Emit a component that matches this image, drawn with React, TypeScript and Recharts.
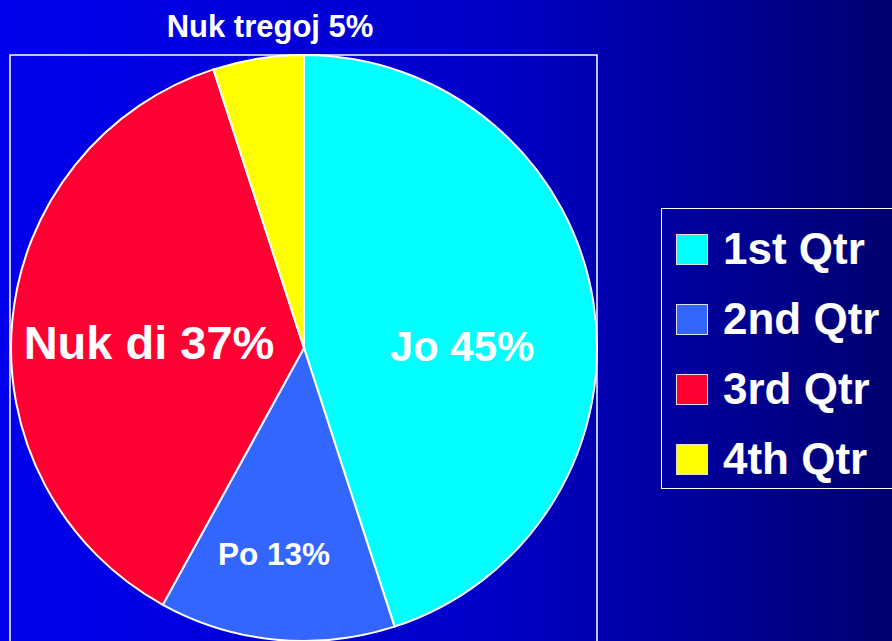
import { PieChart, Pie, Cell, Legend, Customized } from "recharts";

const labels = ["Jo 45%", "Po 13%", "Nuk di 37%", "Nuk tregoj 5%"];
const legendNames = ["1st Qtr", "2nd Qtr", "3rd Qtr", "4th Qtr"];
const values = [45, 13, 37, 5];
const colors = ["#00FFFF", "#3366FF", "#FF0033", "#FFFF00"];

// label placement relative to pie centre (baseline, middle anchor)
const labelOffsets = [
    { dx: 158, dy: 13, size: 42 },
    { dx: -30, dy: 217, size: 31.5 },
    { dx: -155, dy: 11, size: 47 },
    { dx: -34, dy: -311, size: 31 }
];

const data = values.map((v, i) => ({ name: legendNames[i], value: v, label: labels[i] }));

const FONT = "'Liberation Sans', Arial, sans-serif";

const renderLabel = (props: any) => {
    const { cx, cy, index } = props;
    const o = labelOffsets[index];
    return (
        <text
            x={cx + o.dx}
            y={cy + o.dy}
            textAnchor="middle"
            fill="#FFFFFF"
            fontFamily={FONT}
            fontWeight="bold"
            fontSize={o.size}
        >
            {labels[index]}
        </text>
    );
};

const PlotFrame = () => (
    <rect x={10} y={55} width={587} height={600} fill="none" stroke="#FFFFFF" strokeWidth={1.5} />
);

const LegendBox = (props: any) => {
    const items = props.payload || [];
    return (
        <div
            style={{
                width: 260,
                height: 281,
                border: "1.5px solid #FFFFFF",
                boxSizing: "border-box",
                paddingTop: 5
            }}
        >
            {items.map((item: any, i: number) => (
                <div
                    key={i}
                    style={{ display: "flex", alignItems: "center", height: 70, paddingLeft: 14 }}
                >
                    <span
                        style={{
                            display: "inline-block",
                            width: 30,
                            height: 29,
                            background: colors[i],
                            border: "1px solid #E0E0E0",
                            marginRight: 15
                        }}
                    />
                    <span
                        style={{
                            color: "#FFFFFF",
                            fontFamily: FONT,
                            fontWeight: "bold",
                            fontSize: 44,
                            lineHeight: "44px"
                        }}
                    >
                        {item.value}
                    </span>
                </div>
            ))}
        </div>
    );
};

export default function App() {
    return (
        <div
            style={{
                position: "fixed",
                left: 0,
                top: 0,
                width: 892,
                height: 641,
                overflow: "hidden",
                background: "linear-gradient(to right, #0000EE 0%, #0000C8 55%, #000070 100%)"
            }}
        >
            <PieChart width={892} height={641} margin={{ top: 0, right: 0, bottom: 0, left: 0 }}>
                <Customized component={PlotFrame} />
                <Pie
                    data={data}
                    dataKey="value"
                    nameKey="name"
                    cx={304}
                    cy={348}
                    outerRadius={293}
                    startAngle={90}
                    endAngle={-270}
                    stroke="#FFFFFF"
                    strokeWidth={2}
                    label={renderLabel}
                    labelLine={false}
                    isAnimationActive={false}
                >
                    {data.map((d, i) => (
                        <Cell key={d.name} fill={colors[i]} />
                    ))}
                </Pie>
                <Legend
                    content={LegendBox}
                    wrapperStyle={{ position: "absolute", left: 661, top: 208, width: 260 }}
                />
            </PieChart>
        </div>
    );
}
